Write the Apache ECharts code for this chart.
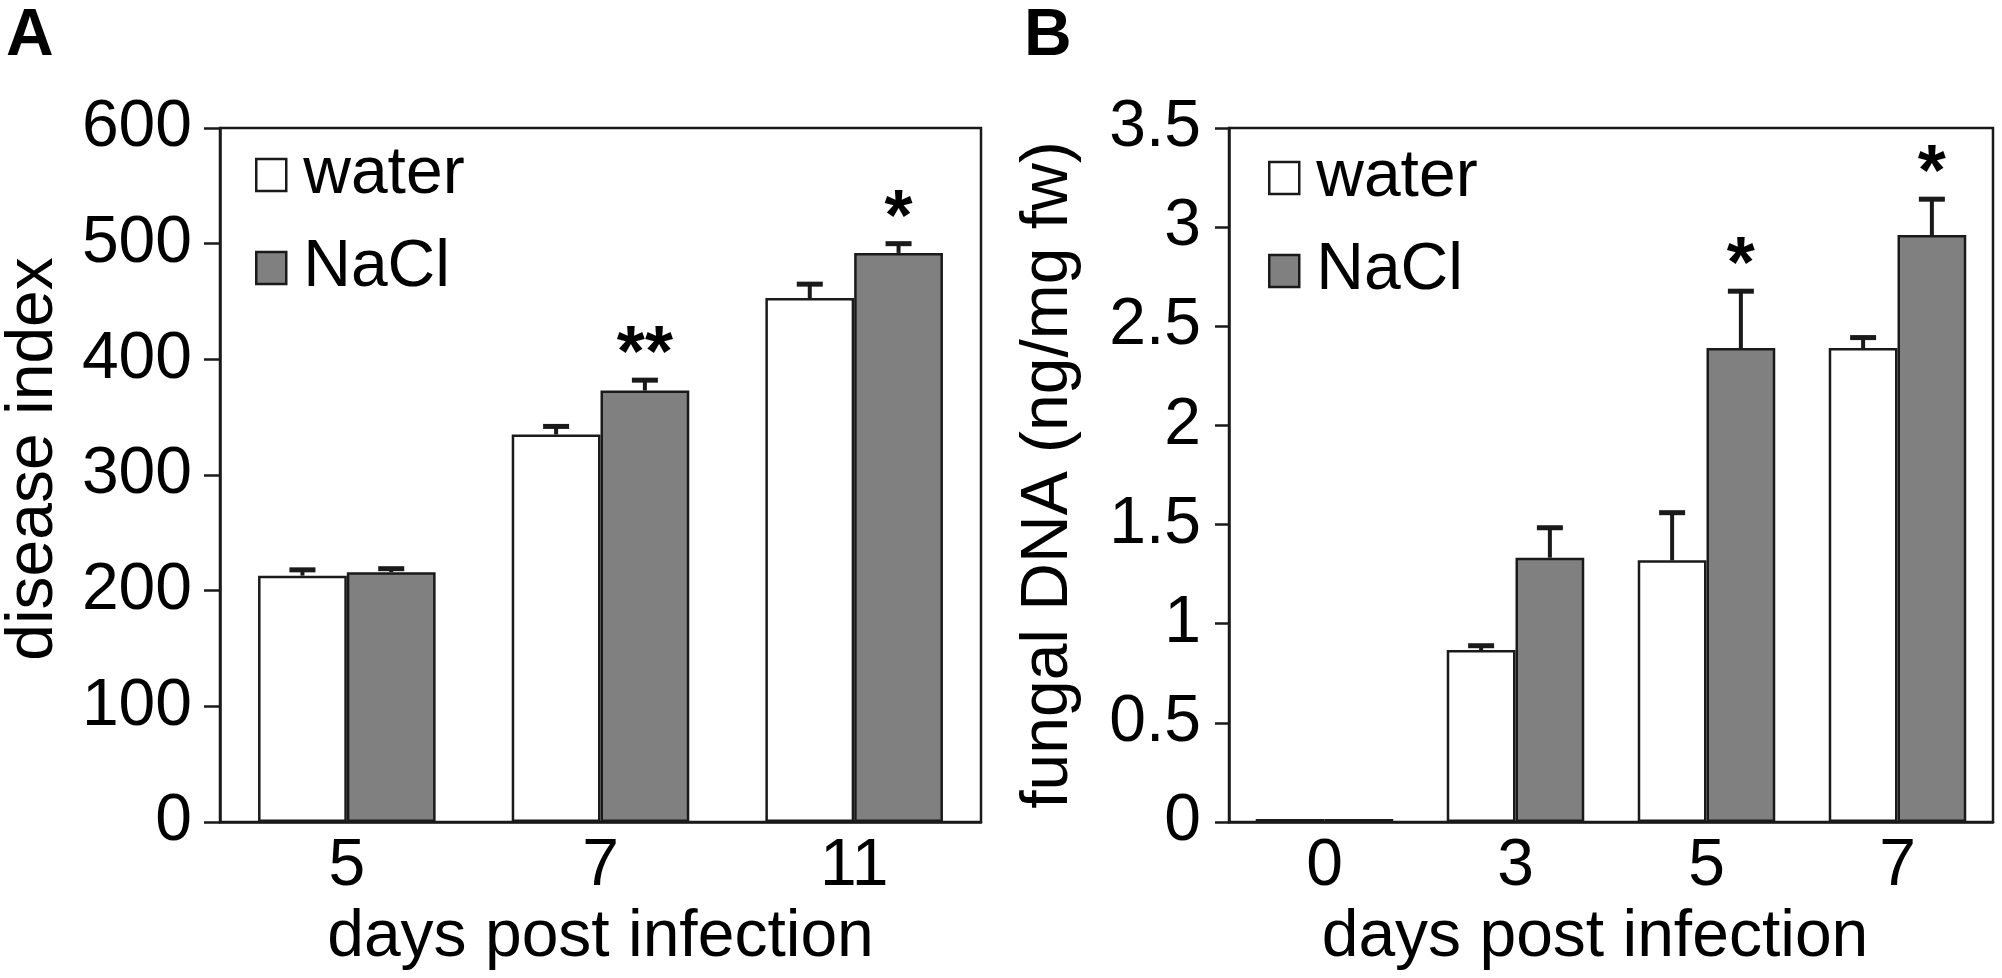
<!DOCTYPE html>
<html>
<head>
<meta charset="utf-8">
<title>disease index / fungal DNA</title>
<script src="https://cdn.jsdelivr.net/npm/echarts@6/dist/echarts.min.js"></script>
<style>
  html, body { margin: 0; padding: 0; background: #fff; }
  #chart { width: 2002px; height: 978px; }
</style>
</head>
<body>
<div id="chart"></div>
<script>
  // panel A - disease index
  var daysA = ['5', '7', '11'];
  var waterA = [213, 335, 453];
  var waterErrA = [5, 7, 12];
  var naclA = [216, 373, 492];
  var naclErrA = [3, 9, 8];
  var sigA = ['', '**', '*'];

  // panel B - fungal DNA
  var daysB = ['0', '3', '5', '7'];
  var waterB = [0.015, 0.867, 1.32, 2.39];
  var waterErrB = [0, 0.022, 0.24, 0.053];
  var naclB = [0.015, 1.333, 2.39, 2.96];
  var naclErrB = [0, 0.151, 0.287, 0.181];
  var sigB = ['', '', '*', '*'];

  var FONT = '"Liberation Sans", Arial, sans-serif';
  var INK = '#1a1a1a';
  var GREY = '#808080';

  // upward error bar (+ significance star) drawn on the bar of one series
  function errBar(barPct, side, sig) {
    return function (params, api) {
      var i = api.value(0), v = api.value(1), e = api.value(2);
      var base = api.coord([i, v]);
      var band = api.size([1, 0])[0];
      var x = base[0] + side * band * barPct / 2;
      var top = api.coord([i, v + e])[1];
      var kids = [];
      if (e > 0) {
        kids.push({ type: 'line', shape: { x1: x, y1: base[1], x2: x, y2: top },
          style: { stroke: INK, lineWidth: 4 } });
        kids.push({ type: 'line', shape: { x1: x - 13, y1: top, x2: x + 13, y2: top },
          style: { stroke: INK, lineWidth: 5 } });
      }
      if (sig[params.dataIndex]) {
        kids.push({ type: 'text', x: x, y: top - 24,
          style: { text: sig[params.dataIndex], font: 'bold 72px ' + FONT, fill: '#000',
            align: 'center', verticalAlign: 'middle' } });
      }
      return { type: 'group', children: kids };
    };
  }

  function pack(vals, errs) {
    return vals.map(function (v, i) { return [i, v, errs[i]]; });
  }

  var axisLine = { lineStyle: { color: INK, width: 2.5 } };
  var tickStyle = { lineStyle: { color: INK, width: 2.5 } };
  var labelStyle = { color: '#000', fontSize: 66, fontFamily: FONT };
  var nameStyle = { color: '#000', fontSize: 66, fontFamily: FONT };
  var barBorder = { borderColor: INK, borderWidth: 2.5 };

  var option = {
    animation: false,
    backgroundColor: '#fff',
    title: [
      { text: 'A', left: 6, top: 4, padding: 0,
        textStyle: { fontSize: 66, fontWeight: 'bold', color: '#000', fontFamily: FONT } },
      { text: 'B', left: 1024, top: 4, padding: 0,
        textStyle: { fontSize: 66, fontWeight: 'bold', color: '#000', fontFamily: FONT } }
    ],
    legend: [
      { left: 255, top: 142, orient: 'vertical', padding: 0, itemGap: 27,
        itemWidth: 30, itemHeight: 32, icon: 'rect', data: ['water', 'NaCl'],
        itemStyle: { borderColor: INK, borderWidth: 2.5 },
        textStyle: { color: '#000', fontSize: 66, fontFamily: FONT, padding: [0, 0, 0, 12] } },
      { left: 1268, top: 145, orient: 'vertical', padding: 0, itemGap: 27,
        itemWidth: 30, itemHeight: 32, icon: 'rect', data: ['water', 'NaCl'],
        itemStyle: { borderColor: INK, borderWidth: 2.5 },
        textStyle: { color: '#000', fontSize: 66, fontFamily: FONT, padding: [0, 0, 0, 12] } }
    ],
    grid: [
      { left: 215, top: 128, width: 766, height: 694, show: true,
        borderColor: INK, borderWidth: 2.5, backgroundColor: 'transparent' },
      { left: 1229, top: 128, width: 764, height: 694, show: true,
        borderColor: INK, borderWidth: 2.5, backgroundColor: 'transparent' }
    ],
    xAxis: [
      { type: 'category', gridIndex: 0, data: daysA,
        name: 'days post infection', nameLocation: 'middle', nameGap: 75, nameTextStyle: nameStyle,
        axisLine: axisLine, axisTick: { length: 16, lineStyle: tickStyle.lineStyle },
        axisLabel: Object.assign({ margin: 12 }, labelStyle) },
      { type: 'category', gridIndex: 1, data: daysB,
        name: 'days post infection', nameLocation: 'middle', nameGap: 75,
        nameTextStyle: Object.assign({ padding: [0, 32, 0, 0] }, nameStyle),
        axisLine: axisLine, axisTick: { length: 16, lineStyle: tickStyle.lineStyle },
        axisLabel: Object.assign({ margin: 12 }, labelStyle) }
    ],
    yAxis: [
      { type: 'value', gridIndex: 0, min: 0, max: 600, interval: 100,
        name: 'disease index', nameLocation: 'middle', nameGap: 153,
        nameTextStyle: Object.assign({ padding: [0, 0, 0, 32] }, nameStyle),
        axisLine: { show: true, lineStyle: axisLine.lineStyle },
        axisTick: { show: true, length: 16, lineStyle: tickStyle.lineStyle },
        splitLine: { show: false },
        axisLabel: Object.assign({ margin: 28 }, labelStyle) },
      { type: 'value', gridIndex: 1, min: 0, max: 3.5, interval: 0.5,
        name: 'fungal DNA (ng/mg fw)', nameLocation: 'middle', nameGap: 147,
        nameTextStyle: nameStyle,
        axisLine: { show: true, lineStyle: axisLine.lineStyle },
        axisTick: { show: true, length: 14, lineStyle: tickStyle.lineStyle },
        splitLine: { show: false },
        axisLabel: Object.assign({ margin: 28 }, labelStyle) }
    ],
    series: [
      { name: 'water', type: 'bar', xAxisIndex: 0, yAxisIndex: 0, data: waterA,
        barWidth: '35%', barGap: '0%', itemStyle: Object.assign({ color: '#fff' }, barBorder) },
      { name: 'NaCl', type: 'bar', xAxisIndex: 0, yAxisIndex: 0, data: naclA,
        barWidth: '35%', barGap: '0%', itemStyle: Object.assign({ color: GREY }, barBorder) },
      { name: 'water', type: 'bar', xAxisIndex: 1, yAxisIndex: 1, data: waterB,
        barWidth: '36%', barGap: '0%', itemStyle: Object.assign({ color: '#fff' }, barBorder) },
      { name: 'NaCl', type: 'bar', xAxisIndex: 1, yAxisIndex: 1, data: naclB,
        barWidth: '36%', barGap: '0%', itemStyle: Object.assign({ color: GREY }, barBorder) },
      { type: 'custom', xAxisIndex: 0, yAxisIndex: 0, z: 5, clip: false,
        renderItem: errBar(0.35, -1, ['', '', '']), data: pack(waterA, waterErrA) },
      { type: 'custom', xAxisIndex: 0, yAxisIndex: 0, z: 5, clip: false,
        renderItem: errBar(0.35, 1, sigA), data: pack(naclA, naclErrA) },
      { type: 'custom', xAxisIndex: 1, yAxisIndex: 1, z: 5, clip: false,
        renderItem: errBar(0.36, -1, ['', '', '', '']), data: pack(waterB, waterErrB) },
      { type: 'custom', xAxisIndex: 1, yAxisIndex: 1, z: 5, clip: false,
        renderItem: errBar(0.36, 1, sigB), data: pack(naclB, naclErrB) }
    ]
  };

  var chart = echarts.init(document.getElementById('chart'));
  chart.setOption(option);
</script>
</body>
</html>
